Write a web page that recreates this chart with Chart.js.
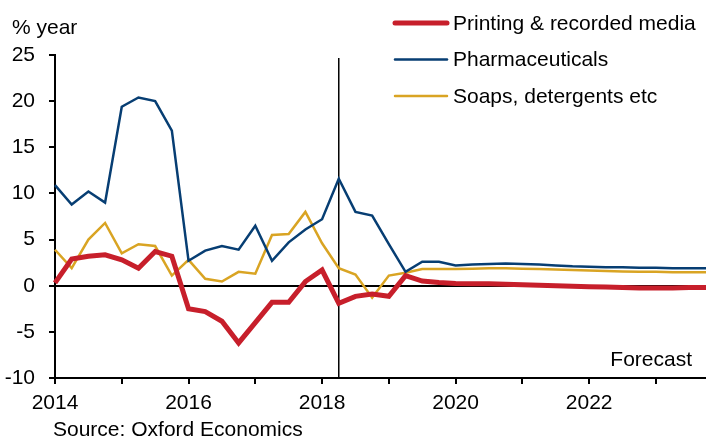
<!DOCTYPE html>
<html>
<head>
<meta charset="utf-8">
<script src="https://cdn.jsdelivr.net/npm/chart.js@4.4.1/dist/chart.umd.min.js"></script>
<style>
  html, body { margin: 0; padding: 0; background: #fff; }
  #wrap { width: 706px; height: 441px; }
</style>
</head>
<body>
<div id="wrap"><canvas id="chart" width="706" height="441"></canvas></div>
<script>
const quarters = [
  '2014 Q1', '2014 Q2', '2014 Q3', '2014 Q4', '2015 Q1', '2015 Q2', '2015 Q3', '2015 Q4',
  '2016 Q1', '2016 Q2', '2016 Q3', '2016 Q4', '2017 Q1', '2017 Q2', '2017 Q3', '2017 Q4',
  '2018 Q1', '2018 Q2', '2018 Q3', '2018 Q4', '2019 Q1', '2019 Q2', '2019 Q3', '2019 Q4',
  '2020 Q1', '2020 Q2', '2020 Q3', '2020 Q4', '2021 Q1', '2021 Q2', '2021 Q3', '2021 Q4',
  '2022 Q1', '2022 Q2', '2022 Q3', '2022 Q4', '2023 Q1', '2023 Q2', '2023 Q3', '2023 Q4'
];

const printing = [
  0.3, 2.9, 3.2, 3.35, 2.8, 1.9, 3.7, 3.2,
  -2.5, -2.8, -3.85, -6.2, -4.0, -1.8, -1.8, 0.45,
  1.7, -1.9, -1.15, -0.9, -1.15, 1.1, 0.5, 0.35,
  0.25, 0.2, 0.2, 0.15, 0.1, 0.05, 0.0, -0.05,
  -0.1, -0.15, -0.2, -0.25, -0.25, -0.25, -0.2, -0.2
];

const pharma = [
  10.9, 8.8, 10.2, 9.0, 19.4, 20.4, 20.0, 16.8,
  2.7, 3.8, 4.3, 3.9, 6.5, 2.7, 4.7, 6.1,
  7.2, 11.6, 8.0, 7.6, 4.5, 1.5, 2.6, 2.6,
  2.2, 2.3, 2.35, 2.4, 2.35, 2.3, 2.2, 2.1,
  2.05, 2.0, 2.0, 1.95, 1.95, 1.9, 1.9, 1.9
];

const soaps = [
  3.9, 1.9, 5.0, 6.8, 3.5, 4.5, 4.3, 1.1,
  2.8, 0.75, 0.45, 1.5, 1.3, 5.5, 5.6, 8.0,
  4.6, 1.9, 1.2, -1.3, 1.1, 1.4, 1.8, 1.8,
  1.8, 1.85, 1.9, 1.9, 1.85, 1.8, 1.75, 1.7,
  1.65, 1.6, 1.55, 1.5, 1.5, 1.45, 1.45, 1.45
];

const yearLabels = ['2014', '2016', '2018', '2020', '2022'];
const forecastStart = '2018 Q2';

const FONT = 'Arial, "Liberation Sans", sans-serif';

// legend, forecast marker and text around the plot
const extras = {
  id: 'extras',
  beforeDatasetsDraw(chart) {
    const ctx = chart.ctx;
    const x = chart.scales.x.getPixelForValue(quarters.indexOf(forecastStart));
    ctx.save();
    ctx.strokeStyle = '#000';
    ctx.lineWidth = 1.5;
    ctx.beginPath();
    ctx.moveTo(x, 58);
    ctx.lineTo(x, chart.chartArea.bottom);
    ctx.stroke();
    ctx.restore();
  },
  afterDraw(chart) {
    const ctx = chart.ctx;
    ctx.save();
    ctx.fillStyle = '#000';
    ctx.font = '21px ' + FONT;
    ctx.textBaseline = 'alphabetic';
    ctx.textAlign = 'left';
    ctx.fillText('% year', 12, 34);
    ctx.fillText('Source: Oxford Economics', 53, 436);
    ctx.textAlign = 'right';
    ctx.fillText('Forecast', 692, 366);

    ctx.textAlign = 'left';
    ctx.textBaseline = 'middle';
    chart.data.datasets.forEach((ds, i) => {
      const y = 23 + i * 36.5;
      ctx.strokeStyle = ds.borderColor;
      ctx.lineWidth = ds.borderWidth;
      ctx.lineCap = 'round';
      ctx.beginPath();
      ctx.moveTo(395, y);
      ctx.lineTo(447, y);
      ctx.stroke();
      ctx.fillStyle = '#000';
      ctx.fillText(ds.label, 453, y + 1);
    });
    ctx.restore();
  }
};

new Chart(document.getElementById('chart'), {
  type: 'line',
  data: {
    labels: quarters,
    datasets: [
      { label: 'Printing & recorded media', data: printing, borderColor: '#C71F2B', borderWidth: 5 },
      { label: 'Pharmaceuticals', data: pharma, borderColor: '#073E73', borderWidth: 2.5 },
      { label: 'Soaps, detergents etc', data: soaps, borderColor: '#D9A423', borderWidth: 2.5 }
    ]
  },
  options: {
    responsive: false,
    animation: false,
    layout: { padding: { top: 55, right: 0, bottom: 0, left: 0 } },
    elements: { point: { radius: 0 }, line: { tension: 0 } },
    plugins: { legend: { display: false }, tooltip: { enabled: false } },
    scales: {
      x: {
        offset: false,
        afterFit(scale) {
          scale.height = 63;
          scale.paddingLeft = 0;
          scale.paddingRight = 0;
        },
        border: { display: true, color: '#000', width: 2 },
        grid: {
          drawOnChartArea: false,
          tickLength: 6,
          tickColor: ctx => (ctx.index % 4 === 0 ? '#000' : 'rgba(0,0,0,0)'),
          lineWidth: 2
        },
        ticks: {
          autoSkip: false,
          maxRotation: 0,
          padding: 7,
          color: '#000',
          font: { family: FONT, size: 21 },
          callback: (value, index) => {
            const [year, q] = quarters[index].split(' ');
            return q === 'Q1' && yearLabels.includes(year) ? year : '';
          }
        }
      },
      y: {
        min: -10,
        max: 25,
        afterFit(scale) { scale.width = 55; },
        border: { display: true, color: '#000', width: 2 },
        grid: {
          color: ctx => (ctx.tick && ctx.tick.value === 0 ? '#000' : 'rgba(0,0,0,0)'),
          lineWidth: 2,
          tickLength: 6,
          tickColor: '#000'
        },
        ticks: {
          stepSize: 5,
          padding: 14,
          color: '#000',
          font: { family: FONT, size: 21 }
        }
      }
    }
  },
  plugins: [extras]
});
</script>
</body>
</html>
